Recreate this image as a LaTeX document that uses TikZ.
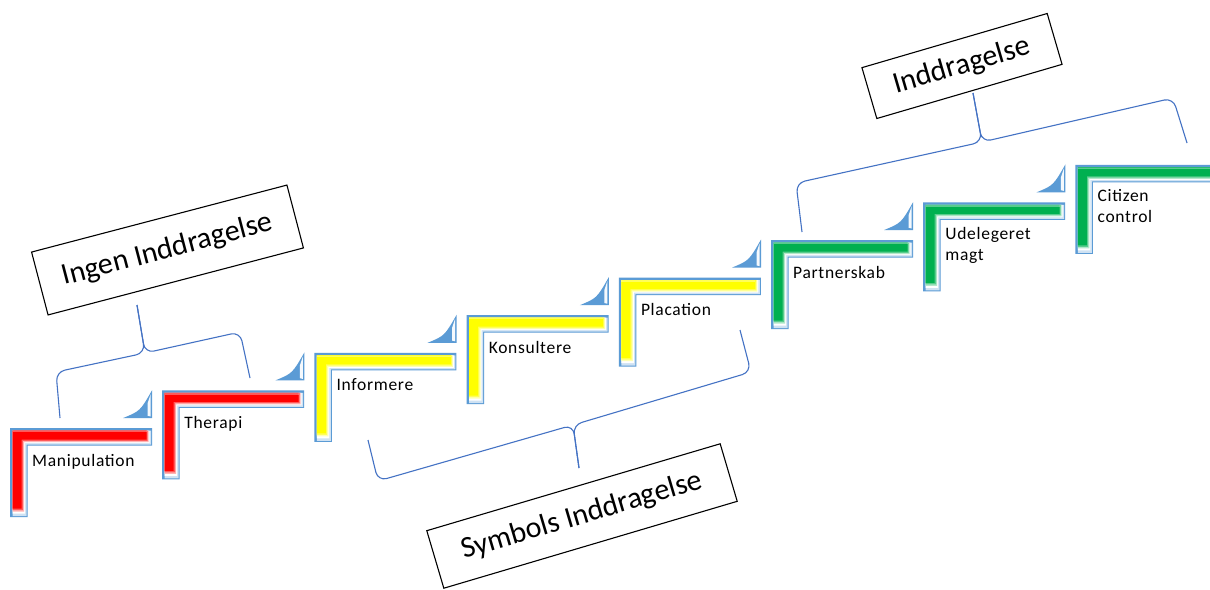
\documentclass[tikz,border=0pt]{standalone}
\usepackage{fontspec}
\setmainfont{Carlito}
\definecolor{bevelblue}{HTML}{5B9BD5}
\definecolor{bevellight}{HTML}{CFE2F3}
\definecolor{braceblue}{HTML}{4472C4}
\definecolor{stepred}{HTML}{FF0000}
\definecolor{stepyellow}{HTML}{FFFF00}
\definecolor{stepgreen}{HTML}{00B050}
\begin{document}
\begin{tikzpicture}[x=1pt,y=-1pt,
  steptext/.style={inner sep=0pt, align=left, anchor=base west,
    font=\fontsize{17.5}{21}\selectfont\addfontfeature{LetterSpace=4}},
  labelbox/.style={draw=black, line width=1.1pt, fill=white, inner sep=0pt,
    font=\fontsize{30}{32}\selectfont},
  brace/.style={draw=braceblue, line width=1.1pt, rounded corners=9pt},
]
\clip (0,0) rectangle (1210,589);
\fill[white] (0,0) rectangle (1210,589);

% L-shaped band: inset a from the outer sides, inner edge at b, ends at (e,f)
\newcommand\lband[5]{%
  \fill[#1] (#2,#2) -- (#4,#2) -- (#4,#3) -- (#3,#3) -- (#3,#5) -- (#2,#5) -- cycle;}

% ---- the eight rungs of the ladder (index/colour/baseline offset/text) ----
\foreach \i/\col/\bl/\txt in {0/stepred/38/Manipulation, 1/stepred/38/Therapi,
    2/stepyellow/38/Informere, 3/stepyellow/38/Konsultere,
    4/stepyellow/38/Placation, 5/stepgreen/38/Partnerskab,
    6/stepgreen/58/{Udelegeret\\magt}, 7/stepgreen/58/{Citizen\\control}}{
  \pgfmathsetmacro\sx{10+152.2*\i}
  \pgfmathsetmacro\sy{428-37.6*\i}
  \begin{scope}[shift={(\sx,\sy)}]
    % bevelled L-shaped bar
    \lband{bevelblue}{0}{17.5}{142}{89}
    \lband{bevellight}{2.5}{16.5}{141}{88}
    \lband{white}{2.5}{15}{139.5}{85.5}
    \lband{\col!30!white}{2.5}{14}{138.5}{83.5}
    \lband{\col!65!white}{2.5}{12.8}{137.5}{82}
    \lband{\col}{2.5}{11.5}{136.5}{80.5}
    \fill[white, opacity=0.35] (2.5,2.7) -- (136.5,2.7) -- (136.5,4.2) -- (2.5,4.2) -- cycle;
  \end{scope}
  \node[steptext] (s\i) at (\sx+22,\sy+\bl) {\txt};
}

% ---- blue corner tabs in front of each rung ----
\foreach \i in {1,...,7}{
  \pgfmathsetmacro\rx{152.2*\i}
  \pgfmathsetmacro\by{418-37.6*(\i-1)}
  \begin{scope}[shift={(\rx,\by)}]
    \fill[bevelblue] (-29,0) .. controls (-12,-7) .. (0,-28) -- (0,0) -- cycle;
    \fill[white!80!bevellight] (-1.5,-24) -- (-1.5,-1.5) -- (-4.5,-2.2) -- (-4.5,-15) -- cycle;
  \end{scope}
}

% ---- group labels ----
\node[labelbox, minimum width=264pt, minimum height=65pt, rotate=14.7]
  (ingen) at (167.5,250) {Ingen Inddragelse};
\node[labelbox, minimum width=306pt, minimum height=60pt, rotate=16.5]
  (symbol) at (582,516) {Symbols Inddragelse};
\node[labelbox, minimum width=193pt, minimum height=53pt, rotate=16.3]
  (inddr) at (962,66) {Inddragelse};

% ---- braces ----
\coordinate (b1) at (137,305);
\draw[brace] (60,418) -- (56,372) -- (145,353) -- (b1);
\draw[brace] (b1) -- (145,353) -- (240,332) -- (250,378);

\coordinate (b2) at (579,468);
\draw[brace] (368,440) -- (378,481) -- (573,425) -- (b2);
\draw[brace] (b2) -- (573,425) -- (751,372) -- (740,330);

\coordinate (b3) at (973,93);
\draw[brace] (802,232) -- (796,183) -- (982,142) -- (b3);
\draw[brace] (b3) -- (982,142) -- (1173,98) -- (1187,143);
\end{tikzpicture}
\end{document}
